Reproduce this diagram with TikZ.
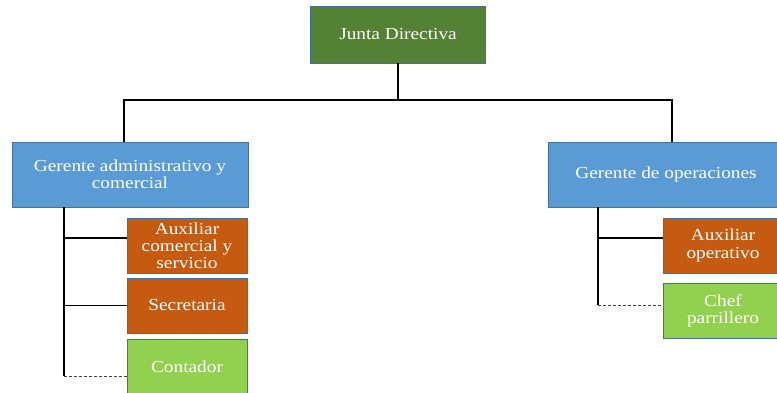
\documentclass[tikz,border=0pt]{standalone}
\usepackage{fontspec}
\setmainfont{Liberation Serif}[FakeStretch=1.15]
\usepackage{tikz}
\definecolor{jdgreen}{HTML}{548235}
\definecolor{gblue}{HTML}{5B9BD5}
\definecolor{aorange}{HTML}{C55A11}
\definecolor{lgreen}{HTML}{92D050}
\definecolor{bdr}{HTML}{41719C}

\begin{document}
\begin{tikzpicture}[x=1pt,y=-1pt]
  \tikzstyle{box}=[draw=bdr,line width=0.8pt,text=white,align=center,inner sep=0pt,
    font=\fontsize{16.8}{17.2}\selectfont]
  \tikzstyle{conn}=[line width=1.6pt]
  \tikzstyle{dconn}=[line width=1pt,gray!50!black,dash pattern=on 3pt off 2pt]
  \useasboundingbox (0,0) rectangle (777,392);
  \clip (0,0) rectangle (777,392);
   \node[box,fill=jdgreen,minimum width=175,minimum height=57] (junta) at (398,34.5) {Junta Directiva};
   \node[box,fill=gblue,minimum width=236,minimum height=65] (gadm) at (130,174.5) {Gerente administrativo y\\comercial};
   \node[box,fill=gblue,minimum width=236,minimum height=65] (gop) at (666,174.5) {Gerente de operaciones};
   \node[box,fill=aorange,minimum width=120,minimum height=55] (auxcom) at (187,246) {Auxiliar\\comercial y\\servicio};
   \node[box,fill=aorange,minimum width=120,minimum height=55] (secre) at (187,305.5) {Secretaria};
   \node[box,fill=lgreen,minimum width=120,minimum height=55] (conta) at (187,366.5) {Contador};
   \node[box,fill=aorange,minimum width=120,minimum height=55] (auxop) at (723,245.5) {Auxiliar\\operativo};
   \node[box,fill=lgreen,minimum width=120,minimum height=55] (chef) at (723,310.5) {Chef\\parrillero};
   \coordinate (busL) at (124,100);
   \coordinate (busR) at (672,100);
   \coordinate (tL) at (64,376);
   \coordinate (tR) at (598,305);
   \draw[conn] (junta.south) -- (junta.south |- busL);
   \draw[conn] (gadm.north -| busL) -- (busL) -- (busR) -- (gop.north -| busR);
   \draw[conn] (gadm.south -| tL) -- (tL);
   \draw[conn] (gop.south -| tR) -- (tR);
   \draw[conn] ([yshift=8pt]auxcom.west) -- ++(-63,0);
   \draw[conn] (secre.west) -- (secre.west -| tL);
   \draw[dconn] (tL) -- (tL -| conta.west);
   \draw[conn] ([yshift=7.5pt]auxop.west) -- ++(-65,0);
   \draw[dconn] (tR) -- (tR -| chef.west);
\end{tikzpicture}
\end{document}
